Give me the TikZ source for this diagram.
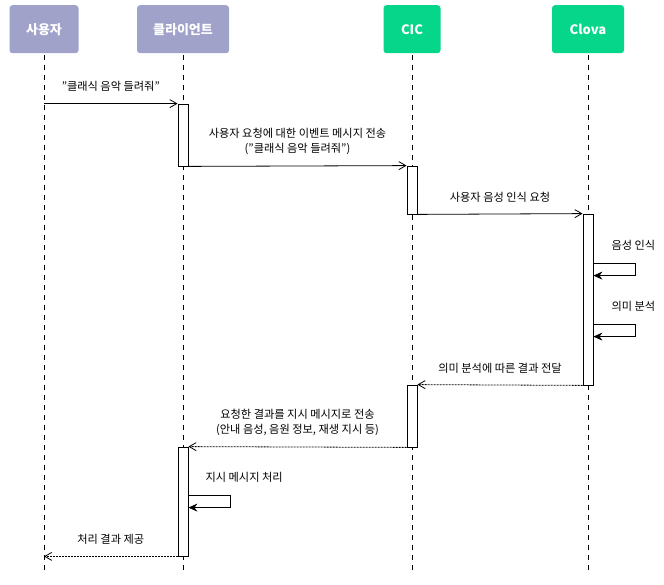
\documentclass[tikz,border=0pt]{standalone}
\usepackage{fontspec}
\setmainfont{Noto Sans CJK KR}
\usetikzlibrary{arrows.meta}

\definecolor{actorgray}{RGB}{160,162,202}
\definecolor{clovagreen}{RGB}{6,214,138}

\tikzset{
	head/.style={fill=#1, rounded corners=3pt, text=white, inner sep=0pt,
		font=\bfseries\fontsize{13}{15}\selectfont, minimum height=48pt},
	life/.style={dash pattern=on 5pt off 5pt, line width=0.7pt, shorten <=2pt},
	act/.style={draw, fill=white, minimum width=10pt, inner sep=0pt, line width=0.8pt},
	call/.style={-{Straight Barb[length=7pt,width=8pt]}, line width=0.8pt},
	reply/.style={call, dash pattern=on 2pt off 1pt},
	selfcall/.style={-{Stealth[length=9pt,width=8pt]}, line width=0.8pt},
	msg/.style={font=\fontsize{11.2}{15}\selectfont, align=center}
}

\begin{document}
\begin{tikzpicture}[x=1pt,y=-1pt]

\useasboundingbox (0,0) rectangle (664,585);

	%actors
\node[head=actorgray, minimum width=69pt, anchor=north] (user) at (44,5) {사용자};
\node[head=actorgray, minimum width=92pt, anchor=north] (client) at (183,5) {클라이언트};
\node[head=clovagreen, minimum width=57pt, anchor=north] (cic) at (412,5) {CIC};
\node[head=clovagreen, minimum width=72pt, anchor=north] (clova) at (588,5) {Clova};

	%lifelines
\coordinate (userEnd) at (44,570);
\coordinate (clientEnd) at (183,570);
\coordinate (cicEnd) at (412,570);
\coordinate (clovaEnd) at (588,570);
\draw[life] (user.south) -- (userEnd);
\draw[life] (client.south) -- (clientEnd);
\draw[life] (cic.south) -- (cicEnd);
\draw[life] (clova.south) -- (clovaEnd);

	%activation boxes
\node[act, minimum height=62pt] (clientAct) at (183,135) {};
\node[act, minimum height=48pt] (cicAct) at (412,190) {};
\node[act, minimum height=171pt] (clovaAct) at (588,299.5) {};
\node[act, minimum height=62pt] (cicAct2) at (412,416) {};
\node[act, minimum height=109pt] (clientAct2) at (183,501.5) {};

	%user -> client
\draw[call] (userEnd |- clientAct.north west) -- (clientAct.north west)
	node[msg, midway, above=8pt] {"클래식 음악 들려줘"};

	%client -> CIC
\draw[call] (clientAct.south east) -- (cicAct.north west)
	node[msg, midway, above=8pt] {사용자 요청에 대한 이벤트 메시지 전송\\("클래식 음악 들려줘")};

	%CIC -> Clova
\draw[call] (cicAct.south east) -- (clovaAct.north west)
	node[msg, midway, above=8pt] {사용자 음성 인식 요청};

	%Clova self calls
\draw[selfcall] ([yshift=-50pt]clovaAct.north east) -- ++(42,0) -- ++(0,12) -- ([yshift=-62pt]clovaAct.north east);
\node[msg, anchor=west] (recogLabel) at (608,245) {음성 인식};

\draw[selfcall] ([yshift=-111pt]clovaAct.north east) -- ++(42,0) -- ++(0,12) -- ([yshift=-123pt]clovaAct.north east);
\node[msg, anchor=west] (nluLabel) at (608,306) {의미 분석};

	%Clova -> CIC
\draw[reply] (clovaAct.south west) -- (cicAct2.north east)
	node[msg, midway, above=8pt] {의미 분석에 따른 결과 전달};

	%CIC -> client
\draw[reply] (cicAct2.south west) -- (clientAct2.north east)
	node[msg, midway, above=8pt] {요청한 결과를 지시 메시지로 전송\\(안내 음성, 음원 정보, 재생 지시 등)};

	%client self call
\draw[selfcall] ([yshift=-49pt]clientAct2.north east) -- ++(42,0) -- ++(0,12) -- ([yshift=-61pt]clientAct2.north east);
\node[msg, anchor=west] (procLabel) at (202,477) {지시 메시지 처리};

	%client -> user
\draw[reply] (clientAct2.south west) -- (userEnd |- clientAct2.south west)
	node[msg, midway, above=8pt] {처리 결과 제공};

\end{tikzpicture}
\end{document}
